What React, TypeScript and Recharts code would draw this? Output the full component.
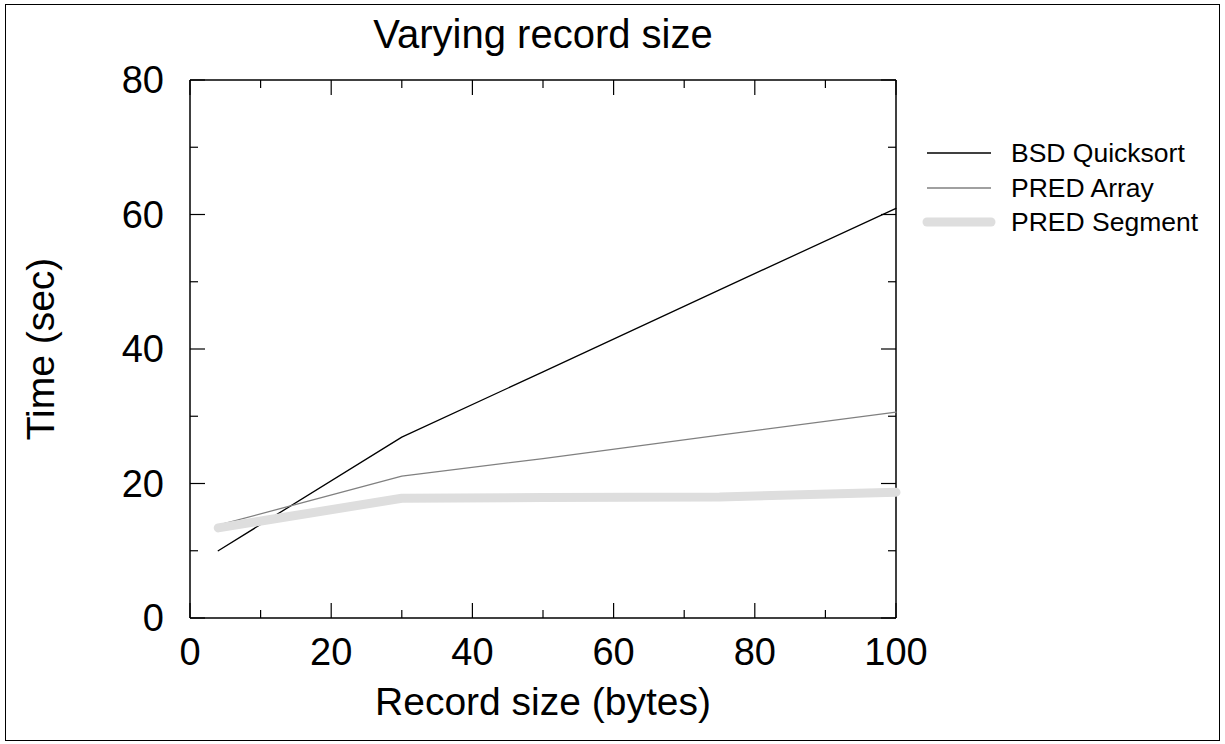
import { LineChart, Line, XAxis, YAxis, Legend, Label, ReferenceLine } from "recharts";

// record size (bytes) vs time (sec)
const recordSizes = [4, 30, 50, 75, 100];
const bsdQuicksort = [10.0, 26.9, 36.6, 48.8, 60.9];
const predArray = [13.8, 21.1, 23.7, 27.2, 30.6];
const predSegment = [13.4, 17.8, 17.9, 18.0, 18.7];

const xTicks = [0, 10, 20, 30, 40, 50, 60, 70, 80, 90, 100];
const xLabels = [0, 20, 40, 60, 80, 100];
const yTicks = [0, 10, 20, 30, 40, 50, 60, 70, 80];
const yLabels = [0, 20, 40, 60, 80];

const seriesNames = ["BSD Quicksort", "PRED Array", "PRED Segment"];

const data = recordSizes.map((size, i) => ({
  size,
  bsd: bsdQuicksort[i],
  array: predArray[i],
  segment: predSegment[i],
}));

const FONT = '"Liberation Sans", Arial, Helvetica, sans-serif';
const W = 1225;
const H = 744;
// plot frame edges
const LEFT = 190;
const RIGHT = 896;
const TOP = 80;
const BOTTOM = 618;
const MAJOR = 15;
const MINOR = 8;

const styles = [
  { key: "bsd", color: "#000000", width: 1.3 },
  { key: "array", color: "#808080", width: 1.3 },
  { key: "segment", color: "#dedede", width: 9 },
];

// gnuplot-style ticks: inward on bottom and mirrored on top
function XTick({ x, payload }: any) {
  const major = xLabels.includes(payload.value);
  const len = major ? MAJOR : MINOR;
  return (
    <g>
      <line x1={x} y1={BOTTOM} x2={x} y2={BOTTOM - len} stroke="#000" strokeWidth={1.2} />
      <line x1={x} y1={TOP} x2={x} y2={TOP + len} stroke="#000" strokeWidth={1.2} />
      {major && (
        <text x={x} y={BOTTOM + 47} textAnchor="middle" fontSize={38} fill="#000">
          {payload.value}
        </text>
      )}
    </g>
  );
}

// inward on left and mirrored on right
function YTick({ y, payload }: any) {
  const major = yLabels.includes(payload.value);
  const len = major ? MAJOR : MINOR;
  return (
    <g>
      <line x1={LEFT} y1={y} x2={LEFT + len} y2={y} stroke="#000" strokeWidth={1.2} />
      <line x1={RIGHT} y1={y} x2={RIGHT - len} y2={y} stroke="#000" strokeWidth={1.2} />
      {major && (
        <text x={LEFT - 26} y={y} dy="0.355em" textAnchor="end" fontSize={38} fill="#000">
          {payload.value}
        </text>
      )}
    </g>
  );
}

function LegendBox() {
  return (
    <div style={{ fontFamily: FONT }}>
      {styles.map((s, i) => (
        <div key={s.key} style={{ display: "flex", alignItems: "center", height: 34.5 }}>
          <svg width={93} height={34} style={{ display: "block" }}>
            <line
              x1={9}
              y1={17}
              x2={73}
              y2={17}
              stroke={s.color}
              strokeWidth={s.width}
              strokeLinecap={s.key === "segment" ? "round" : "butt"}
            />
          </svg>
          <span style={{ fontSize: 26.5, lineHeight: "34px", color: "#000", whiteSpace: "nowrap" }}>{seriesNames[i]}</span>
        </div>
      ))}
    </div>
  );
}

export default function App() {
  const axisLine = { stroke: "#000", strokeWidth: 1.5 };
  return (
    <div style={{ position: "absolute", left: 0, top: 0, width: W, height: H, background: "#fff", fontFamily: FONT }}>
      <div
        style={{
          position: "absolute",
          left: 5,
          top: 4,
          width: 1215,
          height: 737,
          boxSizing: "border-box",
          border: "1.5px solid #000",
        }}
      />
      <LineChart width={W} height={H} data={data} margin={{ top: TOP, right: W - RIGHT, bottom: 0, left: 0 }}>
        <XAxis
          dataKey="size"
          type="number"
          domain={[0, 100]}
          ticks={xTicks}
          interval={0}
          height={H - BOTTOM}
          tickLine={false}
          axisLine={axisLine}
          tick={<XTick />}
        >
          <Label value="Record size (bytes)" position="insideTop" offset={69} fontSize={39} fill="#000" />
        </XAxis>
        <YAxis
          type="number"
          domain={[0, 80]}
          ticks={yTicks}
          interval={0}
          width={LEFT}
          tickLine={false}
          axisLine={axisLine}
          tick={<YTick />}
        >
          <Label
            content={({ viewBox }: any) => {
              const cx = 40;
              const cy = viewBox ? viewBox.y + viewBox.height / 2 : (TOP + BOTTOM) / 2;
              return (
                <text
                  x={cx}
                  y={cy}
                  dy="0.355em"
                  textAnchor="middle"
                  fontSize={39}
                  fill="#000"
                  transform={`rotate(-90 ${cx} ${cy})`}
                >
                  Time (sec)
                </text>
              );
            }}
          />
        </YAxis>
        {/* top and right frame edges */}
        <ReferenceLine
          y={80}
          stroke="#000"
          strokeWidth={1.5}
          label={{ value: "Varying record size", position: "top", offset: 32, fontSize: 40, fill: "#000" }}
        />
        <ReferenceLine x={100} stroke="#000" strokeWidth={1.5} />
        <Legend
          layout="vertical"
          verticalAlign="middle"
          align="center"
          wrapperStyle={{ position: "absolute", left: 918, top: 136, width: 300 }}
          content={() => <LegendBox />}
        />
        {styles.map((s, i) => (
          <Line
            key={s.key}
            name={seriesNames[i]}
            dataKey={s.key}
            type="linear"
            stroke={s.color}
            strokeWidth={s.width}
            strokeLinecap="round"
            strokeLinejoin="round"
            dot={false}
            activeDot={false}
            isAnimationActive={false}
          />
        ))}
      </LineChart>
    </div>
  );
}
